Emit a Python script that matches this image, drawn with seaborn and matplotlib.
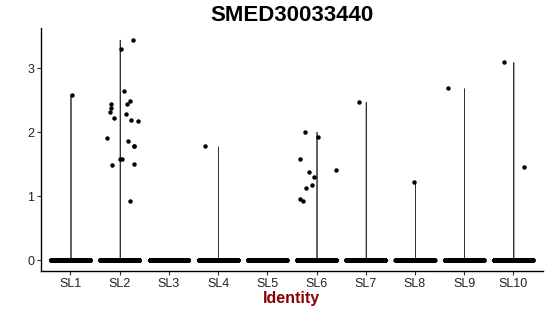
import numpy as np
import pandas as pd
import matplotlib
matplotlib.use("Agg")
import matplotlib.pyplot as plt
import seaborn as sns

title = "SMED30033440"
categories = ["SL1", "SL2", "SL3", "SL4", "SL5", "SL6", "SL7", "SL8", "SL9", "SL10"]
# number of cells with zero expression per identity (estimated)
n_zero = [400, 420, 400, 400, 400, 420, 400, 400, 400, 400]
# non-zero expression values per identity
SL1 = [2.59]
SL2 = [3.45, 3.31, 2.64, 2.49, 2.45, 2.44, 2.38, 2.29, 2.31, 2.19, 2.22, 2.17,
       1.91, 1.87, 1.78, 1.78, 1.58, 1.58, 1.49, 1.50, 0.93]
SL3 = []
SL4 = [1.78]
SL5 = []
SL6 = [2.01, 1.93, 1.58, 1.38, 1.41, 1.30, 1.17, 1.13, 0.92, 0.95]
SL7 = [2.48]
SL8 = [1.22]
SL9 = [2.69]
SL10 = [3.10, 1.46]
nonzero = [SL1, SL2, SL3, SL4, SL5, SL6, SL7, SL8, SL9, SL10]

rows = []
for cat, nz, vals in zip(categories, n_zero, nonzero):
    rows += [(cat, 0.0)] * nz
    rows += [(cat, v) for v in vals]
df = pd.DataFrame(rows, columns=["Identity", "expr"])

sns.set_theme(style="white")
plt.rcParams["font.family"] = ["Liberation Sans", "DejaVu Sans"]
plt.rcParams["text.color"] = "black"

fig = plt.figure(figsize=(5.5, 3.16), dpi=100)
fig.patch.set_facecolor("white")
ax = fig.add_axes([0.0745, 0.1424, 0.9125, 0.7686])
ax.set_facecolor("white")

has_var = [c for c, v in zip(categories, nonzero) if len(v) > 0]
vdf = df[df["Identity"].isin(has_var)]
sns.violinplot(data=vdf, x="Identity", y="expr", order=categories, cut=0,
               inner=None, density_norm="width", bw_adjust=0.08, color="#333333",
               linewidth=0.55, linecolor="#333333", gridsize=400, ax=ax)

np.random.seed(3)
sns.stripplot(data=df, x="Identity", y="expr",
              order=categories, jitter=0.4, size=3.2, color="black",
              linewidth=0, ax=ax)

ax.set_xlim(-0.6, 9.6)
ax.set_ylim(-0.17, 3.63)
ax.set_yticks([0, 1, 2, 3])
ax.set_yticklabels(["0", "1", "2", "3"])
for s in ["top", "right"]:
    ax.spines[s].set_visible(False)
for s in ["left", "bottom"]:
    ax.spines[s].set_color("black")
    ax.spines[s].set_linewidth(1.0)
ax.tick_params(axis="both", which="both", direction="out", length=3, width=0.8,
               color="#333333", labelsize=9, labelcolor="#222222",
               bottom=True, left=True, top=False, right=False, pad=2)
ax.grid(False)
ax.set_xlabel("Identity", fontsize=11.5, fontweight="bold", color="#8B0000", labelpad=1)
ax.set_ylabel("")
ax.set_title(title, fontsize=16, fontweight="bold", color="black", pad=5)

fig.savefig("out.png", dpi=100, facecolor="white")
